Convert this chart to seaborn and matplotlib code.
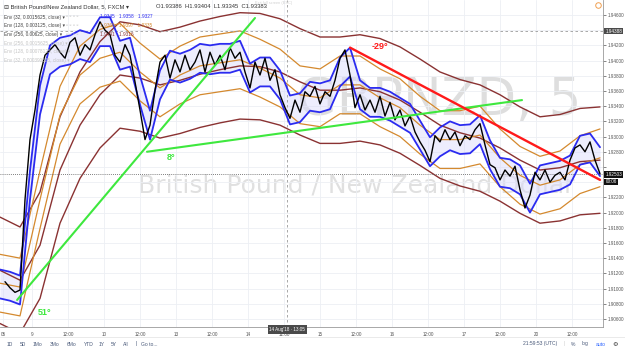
import numpy as np
import pandas as pd
import seaborn as sns
import matplotlib.pyplot as plt
from matplotlib.lines import Line2D

# GBPNZD 5 min, close every 100 min
close = [1.9109, 1.9101, 1.9095, 1.9098, 1.9217, 1.9296, 1.9335, 1.9381, 1.9407, 1.9414,
         1.9421, 1.9411, 1.9403, 1.9424, 1.9430, 1.9407, 1.9421, 1.9414, 1.9434, 1.9451,
         1.9440, 1.9434, 1.9407, 1.9398, 1.9421, 1.9407, 1.9372, 1.9335, 1.9296, 1.9315,
         1.9361, 1.9398, 1.9407, 1.9377, 1.9401, 1.9385, 1.9407, 1.9388, 1.9398, 1.9414,
         1.9385, 1.9411, 1.9394, 1.9407, 1.9388, 1.9417, 1.9403, 1.9411, 1.9385, 1.9364,
         1.9398, 1.9381, 1.9403, 1.9374, 1.9388, 1.9355, 1.9338, 1.9324, 1.9348, 1.9332,
         1.9359, 1.9353, 1.9366, 1.9343, 1.9359, 1.9353, 1.9374, 1.9403, 1.9414, 1.9381,
         1.9338, 1.9355, 1.9335, 1.9348, 1.9332, 1.9353, 1.9327, 1.9345, 1.9322, 1.9335,
         1.9314, 1.9327, 1.9306, 1.9293, 1.9282, 1.9267, 1.9301, 1.9293, 1.9309, 1.9296,
         1.9306, 1.9288, 1.9301, 1.9296, 1.9309, 1.9317, 1.9289, 1.9263, 1.9259, 1.9243,
         1.9256, 1.9248, 1.9261, 1.9230, 1.9206, 1.9223, 1.9253, 1.9243, 1.9256, 1.9240,
         1.9249, 1.9253, 1.9243, 1.9269, 1.9285, 1.9289, 1.9280, 1.9293, 1.9269, 1.9251]

# envelope basis lines (blue every ~200 min, orange / maroon every ~400 min)
blue_mid = [1.9106, 1.9103, 1.9098, 1.9236, 1.9348, 1.9401, 1.9411, 1.9414, 1.9421, 1.9417,
            1.9438, 1.9438, 1.9407, 1.9411, 1.9361, 1.9315, 1.9368, 1.9394, 1.9390, 1.9395,
            1.9403, 1.9401, 1.9403, 1.9403, 1.9407, 1.9377, 1.9385, 1.9385, 1.9368, 1.9335,
            1.9338, 1.9353, 1.9351, 1.9355, 1.9385, 1.9398, 1.9355, 1.9345, 1.9345, 1.9340,
            1.9332, 1.9324, 1.9302, 1.9280, 1.9293, 1.9301, 1.9296, 1.9297, 1.9309, 1.9276,
            1.9253, 1.9251, 1.9243, 1.9219, 1.9243, 1.9246, 1.9249, 1.9256, 1.9282, 1.9285,
            1.9267]
orange_mid = [1.9107, 1.9102, 1.9217, 1.9328, 1.9381, 1.9403, 1.9411, 1.9385, 1.9364, 1.9381,
              1.9393, 1.9397, 1.9401, 1.9390, 1.9377, 1.9355, 1.9351, 1.9368, 1.9368, 1.9351,
              1.9338, 1.9315, 1.9296, 1.9296, 1.9302, 1.9272, 1.9249, 1.9236, 1.9243, 1.9263,
              1.9272]
maroon_mid = [1.9124, 1.9111, 1.9157, 1.9256, 1.9315, 1.9355, 1.9381, 1.9377, 1.9368, 1.9374,
              1.9382, 1.9388, 1.9393, 1.9392, 1.9385, 1.9372, 1.9361, 1.9361, 1.9364, 1.9359,
              1.9348, 1.9332, 1.9315, 1.9305, 1.9298, 1.9285, 1.9269, 1.9256, 1.9259, 1.9267,
              1.9269]
band_width = {"blue": 0.0019, "orange": 0.0038, "maroon": 0.0070}

x_labels = ["05", "9", "12:00", "10", "12:00", "13", "12:00", "14", "12:00",
            "15", "12:00", "16", "12:00", "17", "12:00", "20", "12:00"]
price_ticks = [1.906, 1.908, 1.910, 1.912, 1.914, 1.916, 1.918, 1.920, 1.922, 1.924, 1.926,
               1.928, 1.930, 1.932, 1.934, 1.936, 1.938, 1.940, 1.942, 1.944, 1.946]
hidden_ticks = [1.924, 1.926, 1.944]  # covered by the price boxes

# drawn tools: (hours, price)
green_up = ([5.7, 85.0], [1.9085, 1.9456])
green_flat = ([49.0, 174.0], [1.9280, 1.9348])
red_down = ([116.7, 200.0], [1.9417, 1.9243])

last_price = 1.92503
cross_price = 1.94388
cross_time = 95.7

YMIN, YMAX = 1.90494, 1.94797

sns.set_style("white")
plt.rcParams['font.family'] = ['Liberation Sans', 'DejaVu Sans']

fig = plt.figure(figsize=(6.25, 3.52), dpi=100)
ax = fig.add_axes([0, 25 / 352, 603 / 625, 327 / 352])

df = pd.DataFrame({"t": (np.arange(len(close)) + 1) * 5 / 3, "close": close})
bl = pd.DataFrame({"t": np.arange(len(blue_mid)) * 10 / 3, "mid": blue_mid})
orng = pd.DataFrame({"t": np.arange(len(orange_mid)) * 20 / 3, "mid": orange_mid})
mar = pd.DataFrame({"t": np.arange(len(maroon_mid)) * 20 / 3, "mid": maroon_mid})

# watermark (under everything)
ax.text(297 / 603, 0.648, "GBPNZD, 5", transform=ax.transAxes, fontsize=37,
        color="#dedede", family="DejaVu Sans", va="baseline", zorder=0.5)
ax.text(138 / 603, 0.41, "British Pound / New Zealand Dollar", transform=ax.transAxes,
        fontsize=18, color="#e0e0e0", family="DejaVu Sans", va="baseline", zorder=0.5)

# maroon envelope
for k in [-1, 0, 1]:
    sns.lineplot(x=mar["t"], y=mar["mid"] + k * band_width["maroon"], ax=ax,
                 color="#8a3232", lw=1.0, zorder=2)
# orange envelope
for k in [-1, 0, 1]:
    sns.lineplot(x=orng["t"], y=orng["mid"] + k * band_width["orange"], ax=ax,
                 color="#d4892e", lw=0.9, zorder=2)
# blue envelope
ax.fill_between(bl["t"], bl["mid"] - band_width["blue"], bl["mid"] + band_width["blue"],
                color="#d8d8fb", alpha=0.45, lw=0, zorder=1)
for k in [-1, 1]:
    sns.lineplot(x=bl["t"], y=bl["mid"] + k * band_width["blue"], ax=ax,
                 color="#2b2bf0", lw=1.3, zorder=3)

sns.lineplot(data=df, x="t", y="close", ax=ax, color="black", lw=1.0, zorder=4)

# trend lines
ax.plot(*green_up, color="#3ee83e", lw=1.5, zorder=5)
ax.plot(*green_flat, color="#3ee83e", lw=1.5, zorder=5)
ax.plot(*red_down, color="#ff1a1a", lw=1.7, zorder=5)
ax.text(12.7, 1.9069, "51°", color="#3ee83e", fontsize=6.5, fontweight="bold", va="center")
ax.text(55.5, 1.9272, "8°", color="#3ee83e", fontsize=6.5, fontweight="bold", va="center")
ax.text(124, 1.9418, "-29°", color="#ff1a1a", fontsize=6.5, fontweight="bold", va="center")

# crosshair and last price line
ax.axhline(cross_price, color="#9a9a9a", lw=0.6, ls=(0, (3, 3)))
ax.axvline(cross_time, color="#9a9a9a", lw=0.6, ls=(0, (3, 3)))
ax.axhline(last_price, color="#555555", lw=0.6, ls=(0, (1, 1.5)))

# axes
day0 = 32 / 3
xt = [1] + [day0 + 12 * i for i in range(16)]
ax.set_xticks(xt)
ax.set_xticklabels(x_labels)
ax.set_yticks(price_ticks)
ax.set_yticklabels(["" if round(p, 3) in hidden_ticks else f"{p:.5f}" for p in price_ticks])
ax.yaxis.tick_right()
ax.tick_params(axis="both", labelsize=3.3, colors="#555555", length=2, width=0.5, pad=1.5)
ax.set_xlim(0, 201)
ax.set_ylim(YMIN, YMAX)
ax.grid(True, color="#eceff4", lw=0.6)
for s in ["top", "left"]:
    ax.spines[s].set_visible(False)
for s in ["right", "bottom"]:
    ax.spines[s].set_color("#9a9a9a")
    ax.spines[s].set_linewidth(0.6)
ax.set_xlabel("")
ax.set_ylabel("")


# price boxes on the right axis
def price_box(p, txt, fc):
    ax.text(1.004, (p - YMIN) / (YMAX - YMIN), txt, transform=ax.transAxes,
            fontsize=3.3, color="white", va="center", ha="left",
            bbox=dict(boxstyle="square,pad=0.2", fc=fc, ec="none"))


price_box(cross_price, "1.94388", "#4a4a4a")
price_box(last_price, "1.92503", "#111111")
price_box(last_price - 0.001, "00:06", "#111111")
ax.text(cross_time, 0, "14 Aug'18 · 13:05", fontsize=3.3, color="white",
        ha="center", va="top", transform=ax.get_xaxis_transform(),
        bbox=dict(boxstyle="square,pad=0.35", fc="#4a4a4a", ec="none"))


# legend block top left
def ftxt(x, y, s, size=3.4, **kw):
    fig.text(x / 625, 1 - y / 352, s, va="center", fontsize=size, **kw)


ftxt(4, 7, "⊟ British Pound/New Zealand Dollar, 5, FXCM ▾", size=4.2, color="#333333")
ftxt(156, 7, "O1.93386  H1.93404  L1.93345  C1.93383", size=4.2, color="#333333")
ftxt(255, 3, "Exit full screen (ESC)", size=2.8, color="#d0d0d0")
legend_rows = [
    ("Env (32, 0.0015625, close) ▾", "1.9345   1.9358   1.9327", "#2b2bf0"),
    ("Env (128, 0.003125, close) ▾", "1.9366   1.9397   1.9335", "#d4892e"),
    ("Env (256, 0.00625, close) ▾", "1.9441   1.9316", "#8a3232"),
]
for i, (name, vals, c) in enumerate(legend_rows):
    ftxt(4, 17 + 8.6 * i, name, color="#444444")
    ftxt(66, 17 + 8.6 * i, "▫ ▫ ▫ ▫", size=4, color="#c8c8c8")
    ftxt(100, 17 + 8.6 * i, vals, color=c)
faded = ["Env (256, 0.0015625, close) ▾", "Env (128, 0.00078125, close) ▾",
         "Env (32, 0.000390625, close) ▾"]
for i, name in enumerate(faded):
    ftxt(4, 43 + 8.6 * i, name, color="#c4c4c4")

fig.add_artist(Line2D([598 / 625], [1 - 5 / 352], marker="o", ms=4, mfc="none",
                      mec="#f0a050", mew=0.7))

# bottom toolbar
fig.add_artist(Line2D([0, 1], [1 - 337 / 352] * 2, color="#e6e6e6", lw=0.6))
for x, s in [(7, "1D"), (20, "5D"), (33, "1Mo"), (50, "3Mo"), (67, "6Mo"), (84, "YTD"),
             (99, "1Y"), (111, "5Y"), (123, "All"), (135, "|"), (141, "Go to...")]:
    ftxt(x, 344, s, size=3.6, color="#4a5a7a")
ftxt(523, 344, "21:59:53 (UTC)", size=3.6, color="#4a5a7a")
ftxt(564, 344, "|", size=3.6, color="#cccccc")
ftxt(571, 344, "%", size=3.6, color="#4a5a7a")
ftxt(582, 344, "log", size=3.6, color="#4a5a7a")
ftxt(596, 344, "auto", size=3.6, color="#2962ff")
ftxt(612, 344, "⚙", size=4.5, color="#333333")

fig.savefig("out.png", dpi=100)
